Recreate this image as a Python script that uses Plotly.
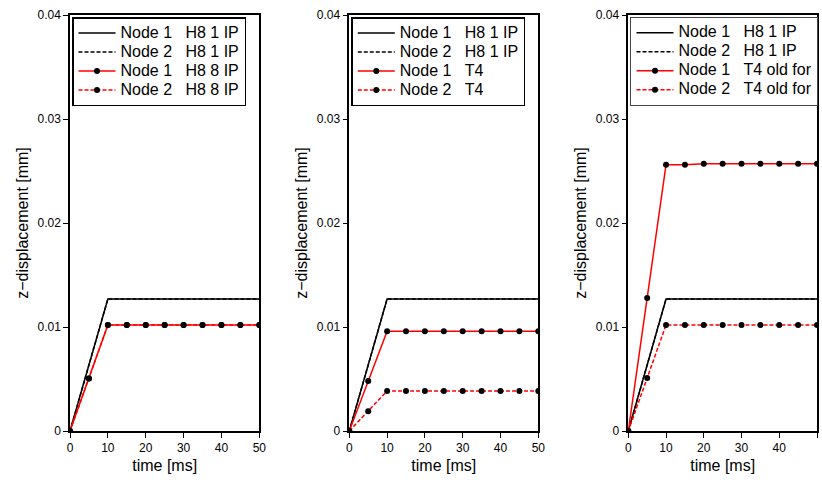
import plotly.graph_objects as go

t = [0, 5, 10, 15, 20, 25, 30, 35, 40, 45, 50]
t_ref = [0, 10, 50]

# Reference solution (H8, 1 integration point), same in all panels
h8_1ip_n1 = [0, 0.0127, 0.0127]
h8_1ip_n2 = [0, 0.0127, 0.0127]
# Panel 1
p1_h8_8ip_n1 = [0, 0.00505, 0.0102, 0.0102, 0.0102, 0.0102, 0.0102, 0.0102, 0.0102, 0.0102, 0.0102]
p1_h8_8ip_n2 = [0, 0.00505, 0.0102, 0.0102, 0.0102, 0.0102, 0.0102, 0.0102, 0.0102, 0.0102, 0.0102]
# Panel 2
p2_t4_n1 = [0, 0.0048, 0.0096, 0.0096, 0.0096, 0.0096, 0.0096, 0.0096, 0.0096, 0.0096, 0.0096]
p2_t4_n2 = [0, 0.0019, 0.00385, 0.00385, 0.00385, 0.00385, 0.00385, 0.00385, 0.00385, 0.00385, 0.00385]
# Panel 3
p3_t4old_n1 = [0, 0.0128, 0.0256, 0.0256, 0.0257, 0.0257, 0.0257, 0.0257, 0.0257, 0.0257, 0.0257]
p3_t4old_n2 = [0, 0.0051, 0.0102, 0.0102, 0.0102, 0.0102, 0.0102, 0.0102, 0.0102, 0.0102, 0.0102]

panels = [
    ("H8 8 IP", p1_h8_8ip_n1, p1_h8_8ip_n2),
    ("T4", p2_t4_n1, p2_t4_n2),
    ("T4 old for", p3_t4old_n1, p3_t4old_n2),
]

FONT = "Liberation Sans, Arial, Helvetica, sans-serif"
NB = "\u00a0"

def lab(node, name):
    return f'<span style="font-size:16px">Node {node}{NB*3}{name}</span>'

fig = go.Figure()
xdomains = [(70/822, 259.3/822), (349.3/822, 538.3/822), (628.3/822, 817/822)]
ydom = (49/480, 465/480)

for i, (name, n1, n2) in enumerate(panels):
    ax = "" if i == 0 else str(i + 1)
    leg = "legend" if i == 0 else f"legend{i+1}"
    common = dict(xaxis="x" + ax, yaxis="y" + ax, legend=leg, showlegend=True)
    fig.add_trace(go.Scatter(x=t_ref, y=h8_1ip_n1, mode="lines", name=lab(1, "H8 1 IP"),
                             line=dict(color="black", width=1.5), **common))
    fig.add_trace(go.Scatter(x=t_ref, y=h8_1ip_n2, mode="lines", name=lab(2, "H8 1 IP"),
                             line=dict(color="black", width=1.5, dash="4px,2px"), **common))
    fig.add_trace(go.Scatter(x=t, y=n1, mode="lines+markers", name=lab(1, name),
                             line=dict(color="red", width=1.5),
                             marker=dict(color="black", size=6), **common))
    fig.add_trace(go.Scatter(x=t, y=n2, mode="lines+markers", name=lab(2, name),
                             line=dict(color="red", width=1.5, dash="4px,2px"),
                             marker=dict(color="black", size=6), **common))

    xa = dict(domain=xdomains[i], range=[0, 50], tickvals=[0, 10, 20, 30, 40, 50],
              ticks="outside", ticklen=5, tickwidth=1.2, tickcolor="black",
              showline=True, linecolor="black", linewidth=1.5, mirror=True,
              showgrid=False, zeroline=False, anchor="y" + ax, automargin=False,
              tickfont=dict(family=FONT, size=12, color="black"),
              title=dict(text="time [ms]", font=dict(family=FONT, size=16, color="black"), standoff=6))
    ya = dict(domain=ydom, range=[0, 0.04], tickvals=[0, 0.01, 0.02, 0.03, 0.04],
              ticktext=["0", "0.01", "0.02", "0.03", "0.04"],
              ticks="outside", ticklen=5, tickwidth=1.2, tickcolor="black",
              showline=True, linecolor="black", linewidth=1.5, mirror=True,
              showgrid=False, zeroline=False, anchor="x" + ax, automargin=False,
              tickfont=dict(family=FONT, size=12, color="black"),
              title=dict(text="z\u2212displacement [mm]", font=dict(family=FONT, size=16, color="black"), standoff=5))
    fig.layout["xaxis" + ax] = xa
    fig.layout["yaxis" + ax] = ya
    fig.layout[leg] = dict(x=xdomains[i][0] + 2/822, y=ydom[1] - 2/480, xanchor="left", yanchor="top",
                           bgcolor="white", bordercolor="black" if i < 2 else "#444",
                           borderwidth=1.5 if i < 2 else 1.2,
                           font=dict(family=FONT, size=12, color="black"),
                           tracegroupgap=0, itemwidth=37)

fig.update_layout(width=822, height=480, margin=dict(l=0, r=0, t=0, b=0),
                  paper_bgcolor="white", plot_bgcolor="white")
fig.write_html("out.html")
